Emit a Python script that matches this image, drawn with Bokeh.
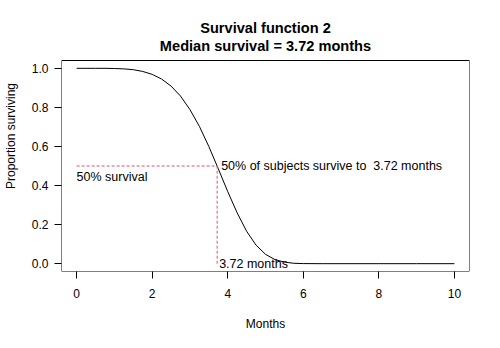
from bokeh.plotting import figure
from bokeh.models import Range1d, BoxAnnotation
from bokeh.embed import file_html
from bokeh.resources import INLINE
from bokeh.core.properties import value

# Survival curve values
months = [0, 0.25, 0.5, 0.75, 1.0, 1.25, 1.5, 1.75, 2.0, 2.25, 2.5, 2.75, 3.0,
          3.25, 3.5, 3.75, 4.0, 4.25, 4.5, 4.75, 5.0, 5.25, 5.5, 5.75, 6.0,
          6.5, 7.0, 8.0, 9.0, 10.0]
surv = [1.0, 1.0, 1.0, 1.0, 0.999, 0.997, 0.993, 0.984, 0.969, 0.945, 0.909,
        0.858, 0.789, 0.703, 0.600, 0.486, 0.369, 0.260, 0.166, 0.095, 0.048,
        0.021, 0.008, 0.002, 0.0005, 0.0, 0.0, 0.0, 0.0, 0.0]
median = 3.72
half = 0.5
x_ticks = [0, 2, 4, 6, 8, 10]
y_ticks = [0.0, 0.2, 0.4, 0.6, 0.8, 1.0]
y_tick_labels = ["0.0", "0.2", "0.4", "0.6", "0.8", "1.0"]
title_lines = ["Survival function 2", "Median survival = 3.72 months"]

FONT = "Liberation Sans"
RED = "#DF536B"

W, H = 500, 348
LEFT, RIGHT, TOP, BOTTOM = 60, 31, 60, 77
X0, X1, Y0, Y1 = -0.4, 10.4, -0.04, 1.04
ppu = (H - TOP - BOTTOM) / (Y1 - Y0)   # pixels per y unit inside the plot box
Y_TOP = Y1 + TOP / ppu                 # extend canvas up to hold the title

p = figure(width=W, height=H, output_backend="svg", toolbar_location=None,
           x_range=Range1d(X0, X1), y_range=Range1d(Y0, Y_TOP),
           min_border_left=LEFT, min_border_right=RIGHT, min_border_top=0,
           min_border_bottom=BOTTOM)
p.title.visible = False
p.background_fill_color = "white"
p.border_fill_color = "white"
p.outline_line_color = None
p.xgrid.visible = False
p.ygrid.visible = False

# plot box (R style)
p.add_layout(BoxAnnotation(left=X0, right=X1, bottom=Y0, top=Y1,
                           fill_color=None, fill_alpha=0, line_color="black",
                           line_alpha=1.0, line_width=1))

# centred two-line bold title
for line, baseline_px in zip(title_lines, [27, 45]):
    p.text(x=[(X0 + X1) / 2], y=[Y1 + (TOP - baseline_px) / ppu], text=[line],
           text_font=value(FONT), text_font_size="14.6px",
           text_font_style="bold", text_align="center",
           text_baseline="alphabetic", text_color="black")

for ax in (p.xaxis, p.yaxis):
    ax.axis_line_color = None
    ax.major_tick_in = 0
    ax.major_tick_out = 7
    ax.minor_tick_line_color = None
    ax.major_tick_line_color = "black"
    ax.major_label_text_font = FONT
    ax.major_label_text_font_size = "12px"
    ax.major_label_text_color = "black"
    ax.axis_label_text_font = FONT
    ax.axis_label_text_font_size = "12px"
    ax.axis_label_text_font_style = "normal"
    ax.axis_label_text_color = "black"

p.xaxis.ticker = x_ticks
p.yaxis.ticker = y_ticks
p.yaxis.major_label_overrides = {v: s for v, s in zip(y_ticks, y_tick_labels)}
p.xaxis.major_label_standoff = 10
p.yaxis.major_label_standoff = 6
p.xaxis.axis_label = "Months"
p.yaxis.axis_label = "Proportion surviving"
p.xaxis.axis_label_standoff = 16
p.yaxis.axis_label_standoff = 11

p.line(months, surv, line_color="black", line_width=1)

p.line([0, median], [half, half], line_color=RED, line_dash="3 2", line_width=1)
p.line([median, median], [0, half], line_color=RED, line_dash="3 2", line_width=1)

p.text(x=[0], y=[half], text=["50% survival"], text_font=value(FONT),
       text_font_size="12.5px", text_baseline="top", text_align="left",
       y_offset=4, text_color="black")
p.text(x=[median], y=[half], text=["50% of subjects survive to\u00a0 3.72 months"],
       text_font=value(FONT), text_font_size="12.5px", text_baseline="middle",
       text_align="left", x_offset=4, text_color="black")
p.text(x=[median], y=[0], text=["3.72 months"], text_font=value(FONT),
       text_font_size="12.5px", text_baseline="middle", text_align="left",
       x_offset=2, text_color="black")

open("out.html", "w").write(file_html(p, INLINE))
